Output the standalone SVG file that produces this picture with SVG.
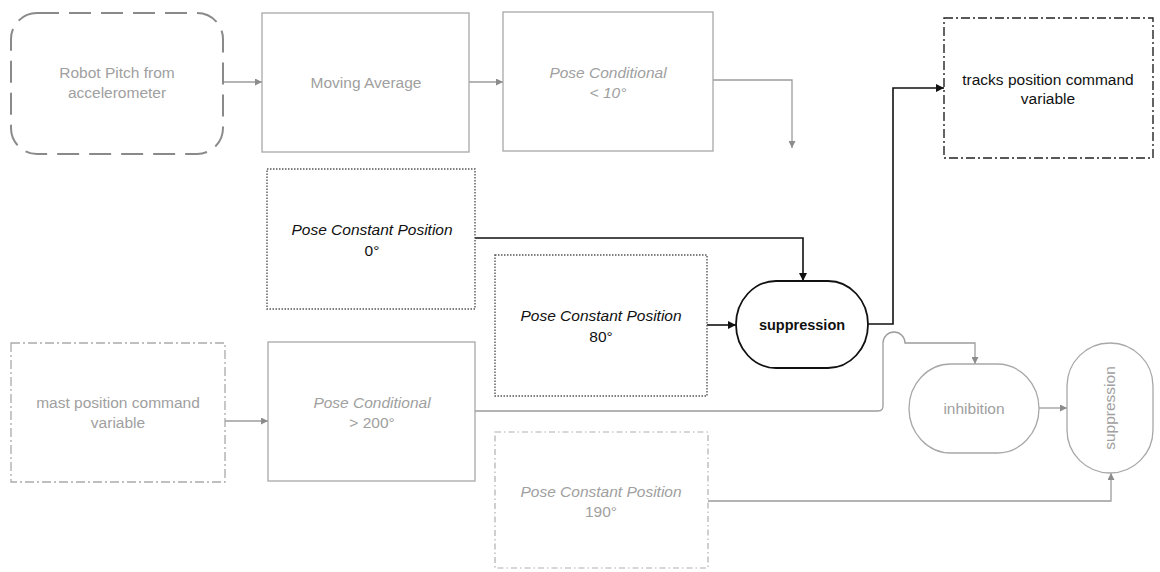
<svg xmlns="http://www.w3.org/2000/svg" width="1160" height="572" viewBox="0 0 1160 572">
<defs>
<style>
text{font-family:"Liberation Sans",Arial,sans-serif;font-size:15.5px;text-anchor:middle}
.g{fill:#a0a0a0}
.k{fill:#111}
.it{font-style:italic}
.b{font-weight:bold;font-size:14.5px}
.gbox{fill:none;stroke:#a8a8a8;stroke-width:1.3}
.kline{fill:none;stroke:#111;stroke-width:1.6}
.gline{fill:none;stroke:#9c9c9c;stroke-width:1.3}
</style>
<marker id="ak" viewBox="0 0 10 10" refX="10" refY="5" markerWidth="10" markerHeight="8" markerUnits="userSpaceOnUse" orient="auto"><path d="M0,0L10,5L0,10z" fill="#111"/></marker>
<marker id="ag" viewBox="0 0 10 10" refX="10" refY="5" markerWidth="9" markerHeight="7" markerUnits="userSpaceOnUse" orient="auto"><path d="M0,0L10,5L0,10z" fill="#8c8c8c"/></marker>
</defs>
<rect width="1160" height="572" fill="#fff"/>

<g id="connectors">
<path class="gline" d="M223,82H262" marker-end="url(#ag)"/>
<path class="gline" d="M469,82H503" marker-end="url(#ag)"/>
<path class="gline" d="M713,80H792V148" marker-end="url(#ag)"/>
<path class="kline" d="M475,238H803V281" marker-end="url(#ak)"/>
<path class="kline" d="M707,325H736" marker-end="url(#ak)"/>
<path class="kline" d="M868,324H893V88H944" marker-end="url(#ak)"/>
<path class="gline" d="M225,421H268" marker-end="url(#ag)"/>
<path class="gline" d="M475,411H878Q883,411 883,406V343A11,11 0 0 1 905,343H975V364" marker-end="url(#ag)"/>
<path class="gline" d="M1039,408H1067" marker-end="url(#ag)"/>
<path class="gline" d="M708,501H1111V473" marker-end="url(#ag)"/>
</g>

<g id="robot-pitch">
<rect x="11" y="13" width="212" height="141" rx="26" fill="none" stroke="#8a8a8a" stroke-width="2" stroke-dasharray="22 10"/>
<text class="g" x="117" y="78">Robot Pitch from</text>
<text class="g" x="117" y="98">accelerometer</text>
</g>

<g id="moving-average">
<rect class="gbox" x="262" y="13" width="207" height="139"/>
<text class="g" x="366" y="88">Moving Average</text>
</g>

<g id="pose-cond-10">
<rect class="gbox" x="503" y="12" width="210" height="139"/>
<text class="g it" x="608" y="78">Pose Conditional</text>
<text class="g it" x="608" y="98">&lt; 10°</text>
</g>

<g id="tracks">
<rect x="944" y="18" width="209" height="140" fill="none" stroke="#222" stroke-width="1.4" stroke-dasharray="9 3 2 3"/>
<text class="k" x="1048" y="85">tracks position command</text>
<text class="k" x="1048" y="104">variable</text>
</g>

<g id="pose-const-0">
<rect x="267" y="169" width="208" height="140" fill="none" stroke="#555" stroke-width="1.4" stroke-dasharray="1.5 1.5"/>
<text class="k it" x="372" y="235">Pose Constant Position</text>
<text class="k" x="372" y="256">0°</text>
</g>

<g id="pose-const-80">
<rect x="495" y="255" width="212" height="141" fill="none" stroke="#555" stroke-width="1.4" stroke-dasharray="1.5 1.5"/>
<text class="k it" x="601" y="321">Pose Constant Position</text>
<text class="k" x="601" y="342">80°</text>
</g>

<g id="suppression-main">
<rect x="736" y="281" width="132" height="87" rx="40" ry="43.5" fill="#fff" stroke="#111" stroke-width="1.8"/>
<text class="k b" x="802" y="330">suppression</text>
</g>

<g id="mast-position">
<rect x="11" y="343" width="214" height="139" fill="none" stroke="#aaa" stroke-width="1.3" stroke-dasharray="9 3 2 3"/>
<text class="g" x="118" y="408">mast position command</text>
<text class="g" x="118" y="428">variable</text>
</g>

<g id="pose-cond-200">
<rect class="gbox" x="268" y="342" width="207" height="139"/>
<text class="g it" x="372" y="408">Pose Conditional</text>
<text class="g" x="372" y="428">&gt; 200°</text>
</g>

<g id="inhibition">
<rect class="gbox" x="909" y="364" width="130" height="89" rx="42" ry="44.5" fill="#fff"/>
<text class="g" x="974" y="414">inhibition</text>
</g>

<g id="suppression-2">
<rect class="gbox" x="1067" y="343" width="86" height="130" rx="43" ry="43" fill="#fff"/>
<text class="g" x="0" y="0" transform="translate(1115,408) rotate(-90)">suppression</text>
</g>

<g id="pose-const-190">
<rect x="495" y="432" width="213" height="136" fill="none" stroke="#b0b0b0" stroke-width="1.2" stroke-dasharray="6 3 1.5 3"/>
<text class="g it" x="601" y="497">Pose Constant Position</text>
<text class="g" x="601" y="517">190°</text>
</g>
</svg>
